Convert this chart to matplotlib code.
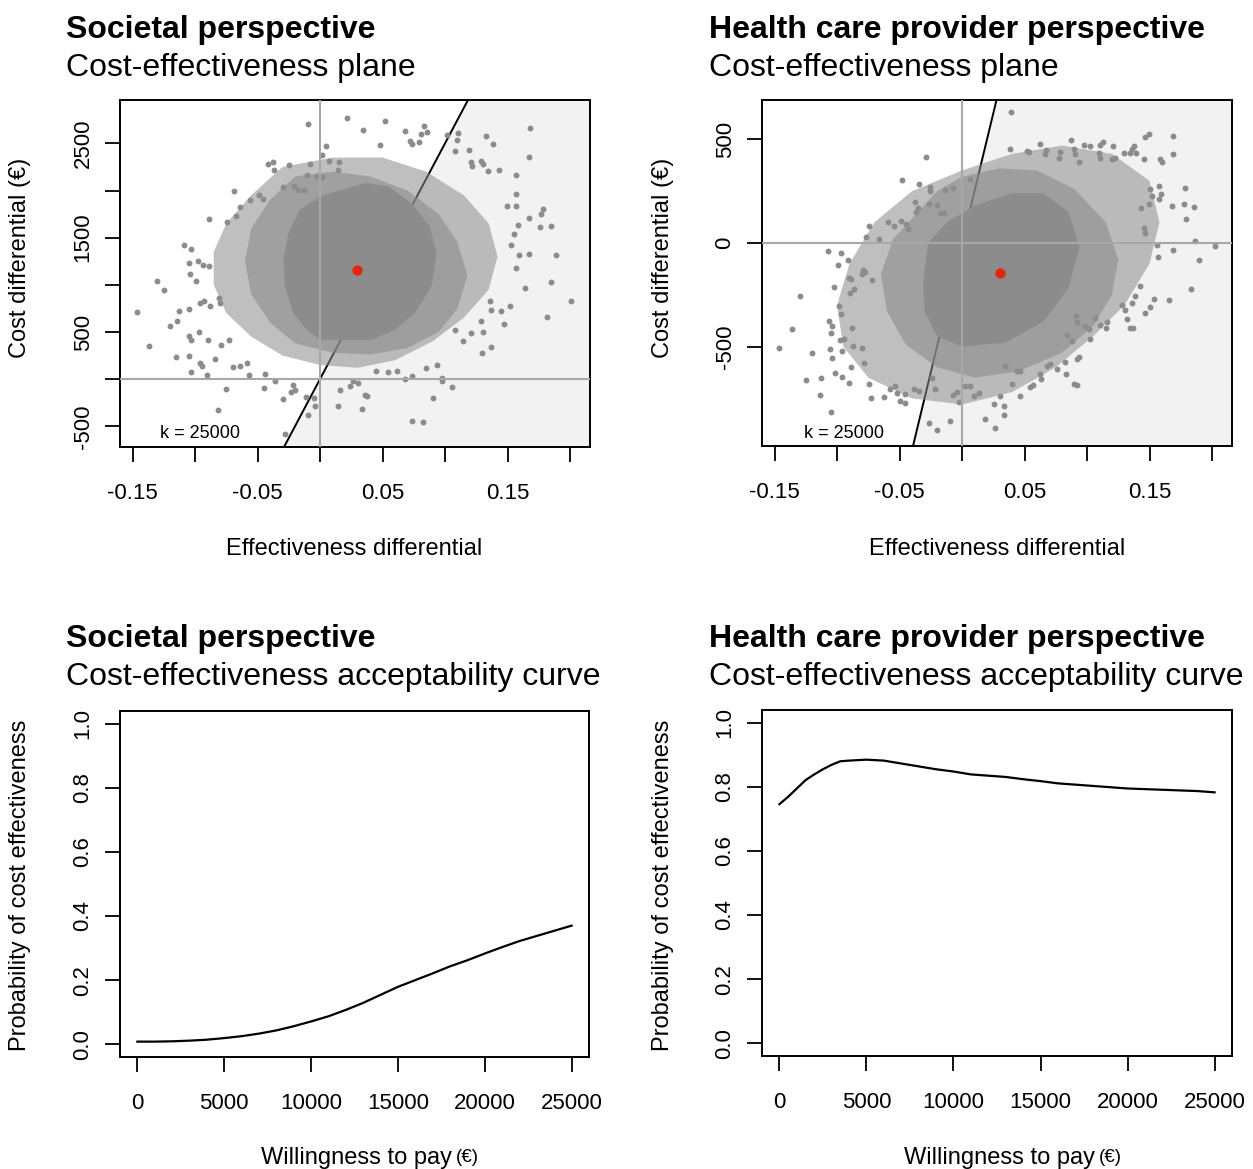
import numpy as np
import matplotlib.pyplot as plt

plt.rcParams["font.family"] = ["Liberation Sans", "DejaVu Sans"]

# ---- data ----
k_wtp = 25000

# mean incremental effect / cost
mean_soc = (0.0296, 1156)
mean_hcp = (0.0304, -145)

# bootstrap clouds: outlines of the solid core, the denser band and the outer halo
core_soc_x = [0.0, -0.016, -0.0253, -0.0293, -0.028, -0.0213, -0.0106, 0.0, 0.0413,
              0.0599, 0.0759, 0.0892, 0.0932, 0.0879, 0.0732, 0.0546, 0.0359]
core_soc_y = [1937, 1796, 1548, 1266, 983, 700, 523, 417, 417,
              523, 700, 983, 1336, 1619, 1866, 2043, 2079]
mid_soc_x = [-0.02, -0.04, -0.055, -0.06, -0.055, -0.04, -0.02, 0.01, 0.04, 0.07,
             0.095, 0.11, 0.118, 0.11, 0.095, 0.07, 0.04, 0.01]
mid_soc_y = [2150, 1900, 1600, 1250, 900, 600, 380, 280, 260, 330,
             500, 750, 1100, 1450, 1750, 2000, 2150, 2200]
halo_soc_x = [-0.03, -0.055, -0.075, -0.085, -0.085, -0.075, -0.055, -0.03, 0.0, 0.03,
              0.06, 0.09, 0.115, 0.135, 0.142, 0.135, 0.115, 0.085, 0.05, 0.01]
halo_soc_y = [2250, 1950, 1650, 1350, 1000, 700, 450, 250, 150, 120,
              200, 400, 650, 950, 1300, 1650, 1950, 2200, 2350, 2350]

core_hcp_x = [-0.027, -0.012, 0.01, 0.04, 0.065, 0.085, 0.094, 0.085, 0.065, 0.035,
              0.0, -0.02, -0.03, -0.031]
core_hcp_y = [0, 100, 180, 240, 240, 150, -20, -220, -380, -480,
              -500, -450, -330, -180]
mid_hcp_x = [-0.035, -0.055, -0.065, -0.06, -0.045, -0.02, 0.01, 0.045, 0.08, 0.105,
             0.12, 0.125, 0.115, 0.09, 0.06, 0.03, 0.0, -0.02]
mid_hcp_y = [150, 20, -150, -330, -490, -600, -650, -620, -530, -400,
             -250, -80, 100, 260, 350, 360, 320, 250]
halo_hcp_x = [-0.04, -0.07, -0.09, -0.1, -0.095, -0.075, -0.04, 0.0, 0.04, 0.075,
              0.105, 0.13, 0.15, 0.158, 0.15, 0.12, 0.08, 0.04, 0.0]
halo_hcp_y = [250, 100, -100, -300, -500, -650, -750, -780, -720, -600,
              -450, -300, -100, 100, 300, 430, 470, 430, 350]

# individual replicates outside the dense core (effect, cost)
pts_soc = np.array([
    (-0.0093, 2704), (0.0218, 2768), (0.0045, 2467), (0.0019, 2379), (0.0072, 2315),
    (0.0152, 2305), (0.0146, 2220), (-0.0413, 2280), (-0.0373, 2301), (-0.0365, 2213),
    (-0.0248, 2273), (-0.008, 2280), (-0.0106, 2167), (-0.0027, 2149), (0.0013, 2142),
    (-0.0692, 1997), (-0.0293, 2033), (-0.0205, 2050), (-0.0178, 2008), (-0.0125, 2001),
    (-0.0485, 1955), (-0.0458, 1912), (-0.0559, 1895), (-0.0639, 1824), (-0.0892, 1697),
    (-0.0745, 1661), (-0.0671, 1732), (-0.1092, 1418), (-0.1030, 1382), (-0.1051, 1230),
    (-0.0977, 1248), (-0.0937, 1212), (-0.0892, 1195), (-0.1044, 1113), (-0.0990, 1043),
    (-0.1305, 1036), (-0.1251, 940), (-0.1464, 714), (-0.1132, 718), (-0.1052, 742),
    (-0.1203, 566), (-0.1145, 612), (-0.0958, 806), (-0.0927, 827), (-0.0879, 771),
    (-0.0812, 859), (-0.0799, 806), (-0.1052, 452), (-0.1033, 410), (-0.0972, 498),
    (-0.0900, 410), (-0.1371, 354), (-0.1150, 233), (-0.1052, 240), (-0.0958, 170),
    (-0.0945, 134), (-0.1030, 71), (-0.0905, 46), (-0.0844, 212), (-0.0791, 364),
    (-0.0732, 417), (-0.0751, -103), (-0.0698, 124), (-0.0639, 134), (-0.0586, 170),
    (-0.0572, 39), (-0.0439, 57), (-0.0447, -95), (-0.0359, -25), (-0.0298, -212),
    (-0.0234, -141), (-0.0200, -113), (-0.0213, -60), (-0.0114, -194), (-0.0099, -378),
    (-0.0817, -332), (-0.0280, -583), (-0.0040, -290), (-0.0045, -201), (0.0160, -113),
    (0.0240, -78), (0.0146, -290), (0.0266, -25),
    (0.0519, 2740), (0.0346, 2644), (0.0679, 2627), (0.0831, 2680), (0.0852, 2616),
    (0.0804, 2598), (0.1012, 2591), (0.1105, 2609), (0.1092, 2538), (0.1677, 2662),
    (0.1326, 2581), (0.1385, 2496), (0.0719, 2520), (0.0737, 2492), (0.0793, 2510),
    (0.0479, 2485), (0.1669, 2354), (0.1190, 2432), (0.1078, 2414), (0.1206, 2298),
    (0.1217, 2255), (0.1286, 2315), (0.1305, 2280), (0.1430, 2213), (0.1571, 2167),
    (0.1344, 2202), (0.1571, 1962), (0.1571, 1831), (0.1499, 1831), (0.1784, 1806),
    (0.1771, 1750), (0.1669, 1707), (0.1763, 1608), (0.1850, 1619), (0.1584, 1630),
    (0.1552, 1538), (0.1526, 1418), (0.1589, 1315), (0.1669, 1326), (0.1890, 1311),
    (0.1571, 1177), (0.1643, 965), (0.1850, 1025), (0.2010, 831), (0.1818, 658),
    (0.1472, 587), (0.1518, 771), (0.1451, 718), (0.1371, 735), (0.1358, 824),
    (0.1291, 612), (0.1305, 495), (0.1211, 488), (0.1371, 336), (0.1299, 276),
    (0.1145, 399), (0.1078, 516), (0.0932, 152), (0.0972, 11), (0.0977, -25),
    (0.1052, -85), (0.0905, -201), (0.0737, -449), (0.0820, -460), (0.0844, 117),
    (0.0679, 0), (0.0732, 35), (0.0333, -315), (0.0359, -166), (0.0373, -184),
    (0.0306, -42), (0.0546, 71), (0.0445, 81), (0.0612, 81),
])

pts_hcp = np.array([
    (-0.0285, 415), (-0.0480, 303), (-0.0347, 283), (-0.0259, 272), (-0.0253, 251),
    (-0.0133, 256), (-0.0072, 267), (0.0061, 311), (-0.0379, 198), (-0.0355, 171),
    (-0.0368, 151), (-0.0267, 190), (-0.0200, 182), (-0.0173, 147), (-0.0147, 143),
    (-0.0741, 82), (-0.0595, 103), (-0.0547, 82), (-0.0485, 106), (-0.0448, 93),
    (-0.0435, 66), (-0.0765, 31), (-0.0661, 21), (-0.1075, -39), (-0.0968, -47),
    (-0.0995, -106), (-0.0912, -84), (-0.0792, -132), (-0.0773, -138), (-0.0800, -151),
    (-0.0720, -180), (-0.0901, -167), (-0.0885, -175), (-0.1027, -211), (-0.1299, -256),
    (-0.0867, -224), (-0.0893, -240), (-0.0987, -304), (-0.0968, -345), (-0.1360, -417),
    (-0.1067, -377), (-0.1040, -401), (-0.1045, -433), (-0.0880, -409), (-0.0973, -469),
    (-0.1461, -506), (-0.1200, -530), (-0.1053, -514), (-0.1040, -554), (-0.0960, -522),
    (-0.0947, -465), (-0.0875, -497), (-0.0800, -506), (-0.0787, -578), (-0.1013, -626),
    (-0.0885, -599), (-0.1245, -663), (-0.1125, -650), (-0.1133, -734), (-0.1045, -816),
    (-0.0960, -647), (-0.0907, -678), (-0.0747, -683), (-0.0725, -747), (-0.0627, -742),
    (-0.0573, -704), (-0.0533, -691), (-0.0520, -726), (-0.0493, -763), (-0.0459, -774),
    (-0.0453, -731), (-0.0381, -707), (-0.0347, -715), (-0.0267, -868), (-0.0200, -905),
    (-0.0099, -857), (-0.0027, -768), (-0.0072, -736), (-0.0040, -720), (0.0027, -691),
    (0.0067, -691), (0.0093, -739), (0.0133, -726), (0.0187, -852), (0.0253, -779),
    (0.0267, -892), (-0.0213, -707), (-0.0240, -650),
    (0.0392, 633), (0.0627, 480), (0.0520, 444), (0.0533, 440), (0.0387, 452),
    (0.0675, 448), (0.0667, 428), (0.0787, 440), (0.0773, 412), (0.0872, 497),
    (0.0979, 473), (0.1021, 468), (0.0893, 452), (0.0901, 428), (0.0933, 393),
    (0.1128, 488), (0.1107, 473), (0.1093, 436), (0.1107, 412), (0.1208, 468),
    (0.1200, 404), (0.1227, 412), (0.1293, 436), (0.1341, 433), (0.1373, 468),
    (0.1360, 452), (0.1392, 436), (0.1453, 404), (0.1467, 512), (0.1499, 528),
    (0.1685, 514), (0.1685, 428), (0.1581, 404), (0.1600, 391), (0.1781, 264),
    (0.1773, 190), (0.1859, 174), (0.1795, 118), (0.1677, 179), (0.1579, 275),
    (0.1595, 235), (0.1573, 211), (0.1520, 227), (0.1507, 259), (0.1493, 190),
    (0.1435, 171), (0.1453, 74), (0.1467, 50), (0.1560, -10), (0.1568, -66),
    (0.1685, -35), (0.1861, 10), (0.2021, -14), (0.1899, -84), (0.1832, -221),
    (0.1653, -275), (0.1539, -269), (0.1507, -309), (0.1467, -336), (0.1427, -208),
    (0.1381, -256), (0.1360, -288), (0.1307, -324), (0.1320, -369), (0.1347, -412),
    (0.1368, -412), (0.1280, -299), (0.1160, -382), (0.1101, -398), (0.1155, -411),
    (0.1013, -417), (0.0981, -401), (0.1067, -361), (0.0915, -353), (0.0920, -382),
    (0.0933, -551), (0.0920, -559), (0.0840, -446), (0.0880, -473), (0.1021, -462),
    (0.0827, -575), (0.0835, -634), (0.0899, -683), (0.0920, -684), (0.0760, -607),
    (0.0680, -594), (0.0707, -586), (0.0627, -634), (0.0632, -658), (0.0547, -694),
    (0.0568, -687), (0.0467, -739), (0.0400, -683), (0.0333, -787), (0.0339, -828),
    (0.0440, -618), (0.0467, -618), (0.0347, -594), (0.0307, -739),
])

# acceptability curves
wtp = [0, 1000, 2000, 3000, 4000, 5000, 6000, 7000, 8000, 9000, 10000, 11000, 12000,
       13000, 14000, 15000, 16000, 17000, 18000, 19000, 20000, 21000, 22000, 23000,
       24000, 25000]
ceac_soc = [0.008, 0.008, 0.009, 0.011, 0.014, 0.019, 0.025, 0.033, 0.043, 0.056, 0.071,
            0.087, 0.107, 0.129, 0.154, 0.179, 0.200, 0.221, 0.243, 0.262, 0.283, 0.303,
            0.322, 0.338, 0.354, 0.370]
wtp_hcp = [0, 500, 1000, 1500, 2000, 2500, 3000, 3500, 4000, 5000, 6000, 7000, 8000, 9000,
           10000, 11000, 12000, 13000, 14000, 15000, 16000, 17000, 18000, 19000, 20000,
           21000, 22000, 23000, 24000, 25000]
ceac_hcp = [0.746, 0.769, 0.795, 0.821, 0.839, 0.855, 0.869, 0.880, 0.882, 0.885, 0.882,
            0.873, 0.864, 0.855, 0.848, 0.839, 0.835, 0.831, 0.824, 0.818, 0.811, 0.807,
            0.803, 0.799, 0.795, 0.793, 0.791, 0.789, 0.787, 0.783]

dot_grey = "#8c8c8c"
line_grey = "#a8a8a8"

fig = plt.figure(figsize=(12.53, 11.69), dpi=100)
W, H = 1253, 1169


def box(l, t, r, b):
    return [l / W, 1 - b / H, (r - l) / W, (b - t) / H]


def style(ax):
    for s in ax.spines.values():
        s.set_linewidth(1.4)
    ax.tick_params(direction="out", length=11, width=1.3, labelsize=16)
    ax.tick_params(axis="x", pad=15)
    ax.tick_params(axis="y", pad=8)
    for lab in ax.get_yticklabels():
        lab.set_rotation(90)
        lab.set_va("center")


def ce_plane(ax, cloud, pts, mean, ylim, yticks, ylabs, ktxt):
    xlim = (-0.16, 0.216)
    yy = np.array(ylim)
    ax.fill_betweenx(yy, yy / k_wtp, xlim[1], color="#f2f2f2", lw=0, zorder=0)
    ax.plot(yy / k_wtp, yy, color="black", lw=1.4, zorder=1)
    (hx, hy), (mx, my), (cx, cy) = cloud
    ax.fill(hx, hy, color=dot_grey, alpha=0.55, lw=0, zorder=2)
    ax.fill(mx, my, color=dot_grey, alpha=0.6, lw=0, zorder=2)
    ax.fill(cx, cy, color=dot_grey, lw=0, zorder=2)
    ax.scatter(pts[:, 0], pts[:, 1], s=18, color=dot_grey, lw=0, zorder=2)
    ax.axhline(0, color=line_grey, lw=1.5, zorder=3)
    ax.axvline(0, color=line_grey, lw=1.5, zorder=3)
    ax.scatter([mean[0]], [mean[1]], s=55, color="#e3260f", lw=0, zorder=4)
    ax.text(ktxt[0], ktxt[1], "k = 25000", fontsize=13, ha="center", va="center", zorder=5)
    ax.set_xlim(*xlim)
    ax.set_ylim(*ylim)
    xt = [-0.15, -0.10, -0.05, 0.0, 0.05, 0.10, 0.15, 0.20]
    ax.set_xticks(xt)
    ax.set_xticklabels(["-0.15", "", "-0.05", "", "0.05", "", "0.15", ""])
    ax.set_yticks(yticks)
    ax.set_yticklabels(ylabs)
    style(ax)


ax1 = fig.add_axes(box(120, 100, 590, 447))
ce_plane(ax1, [(halo_soc_x, halo_soc_y), (mid_soc_x, mid_soc_y), (core_soc_x, core_soc_y)],
         pts_soc, mean_soc, (-720, 2960), [-500, 0, 500, 1000, 1500, 2000, 2500],
         ["-500", "", "500", "", "1500", "", "2500"], (-0.096, -573))

ax2 = fig.add_axes(box(762, 100, 1232, 446))
ce_plane(ax2, [(halo_hcp_x, halo_hcp_y), (mid_hcp_x, mid_hcp_y), (core_hcp_x, core_hcp_y)],
         pts_hcp, mean_hcp, (-980, 690), [-500, 0, 500], ["-500", "0", "500"],
         (-0.094, -918))


def ceac(ax, x, y):
    ax.plot(x, y, color="black", lw=1.6)
    ax.set_xlim(-1000, 26000)
    ax.set_ylim(-0.04, 1.04)
    ax.set_xticks([0, 5000, 10000, 15000, 20000, 25000])
    ax.set_yticks([0.0, 0.2, 0.4, 0.6, 0.8, 1.0])
    ax.set_yticklabels(["0.0", "0.2", "0.4", "0.6", "0.8", "1.0"])
    style(ax)


ax3 = fig.add_axes(box(120, 711, 589, 1057))
ceac(ax3, wtp, ceac_soc)
ax4 = fig.add_axes(box(762, 710, 1232, 1056))
ceac(ax4, wtp_hcp, ceac_hcp)

# titles
for x0, name in [(66, "Societal perspective"), (709, "Health care provider perspective")]:
    fig.text(x0 / W, 1 - 30 / H, name, fontsize=23, fontweight="bold", va="center")
    fig.text(x0 / W, 1 - 68 / H, "Cost-effectiveness plane", fontsize=23, va="center")
    fig.text(x0 / W, 1 - 639 / H, name, fontsize=23, fontweight="bold", va="center")
    fig.text(x0 / W, 1 - 677 / H, "Cost-effectiveness acceptability curve", fontsize=23,
             va="center")

# axis labels
for xc in (354, 997):
    fig.text(xc / W, 1 - 549 / H, "Effectiveness differential", fontsize=17,
             ha="center", va="center")
for xs in (452, 1095):
    fig.text(xs / W, 1 - 1158 / H, "Willingness to pay", fontsize=17, ha="right", va="center")
    fig.text((xs + 4) / W, 1 - 1158 / H, "(€)", fontsize=13.5, ha="left", va="center")
for xc in (20, 663):
    fig.text(xc / W, 1 - 258 / H, "Cost differential (€)", fontsize=17, rotation=90,
             ha="center", va="center")
    fig.text(xc / W, 1 - 885 / H, "Probability of cost effectiveness", fontsize=17,
             rotation=90, ha="center", va="center")

fig.savefig("out.png", dpi=100)
